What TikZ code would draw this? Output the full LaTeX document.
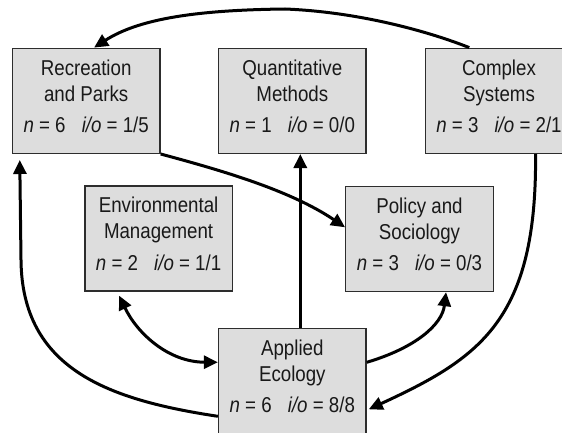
\documentclass[tikz,border=0pt]{standalone}
\usepackage{fontspec}
\setmainfont[FakeStretch=0.87]{Liberation Sans}
\usetikzlibrary{arrows.meta,calc}

\definecolor{boxfill}{RGB}{221,221,221}
\definecolor{boxline}{RGB}{45,45,45}

% three text lines of a box, set on fixed baselines below its top edge
\newcommand\boxtext[4]{%
  \node[lbl] at ($(#1.north)+(0,27.5)$) {#2};
  \node[lbl] at ($(#1.north)+(0,53.5)$) {#3};
  \node[lbl] at ($(#1.north)+(0,85)$) {#4};
}
\newcommand\stats[3]{\textit{n} = #1\hspace{0.75em}\textit{i/o} = #2/#3}

\begin{document}
\begin{tikzpicture}[x=1pt,y=-1pt,
  area/.style={draw=boxline, line width=1.4pt, fill=boxfill, rectangle,
    minimum width=147.5pt, minimum height=105pt, inner sep=0pt},
  lbl/.style={anchor=base, inner sep=0pt, text=black!90, font=\fontsize{21.5}{24}\selectfont},
  link/.style={line width=3pt, -{Triangle[length=14pt,width=13pt]}},
  dlink/.style={line width=3pt, {Triangle[length=14pt,width=13pt]}-{Triangle[length=14pt,width=13pt]}}]

\useasboundingbox (0,0) rectangle (562,433);

% boxes
\node[area] (R) at (86.2,100.8) {};
\node[area] (Q) at (292.3,100.8) {};
\node[area] (C) at (499.0,100.8) {};
\node[area] (E) at (158.6,238.5) {};
\node[area] (P) at (419.5,239.0) {};
\node[area, minimum height=109pt] (A) at (292.3,383.0) {};

\boxtext{R}{Recreation}{and Parks}{\stats{6}{1}{5}}
\boxtext{Q}{Quantitative}{Methods}{\stats{1}{0}{0}}
\boxtext{C}{Complex}{Systems}{\stats{3}{2}{1}}
\boxtext{E}{Environmental}{Management}{\stats{2}{1}{1}}
\boxtext{P}{Policy and}{Sociology}{\stats{3}{0}{3}}
\boxtext{A}{Applied}{Ecology}{\stats{6}{8}{8}}

% connectors
\draw[link] ($(C.north west)+(44.7,0)$) .. controls (430,32) and (360,12) .. (285,9)
  .. controls (200,10) and (140,18) .. ($(R.north west)+(82.3,0)$);
\draw[link] (R.south east) .. controls (220,170) and (290,190) .. ($(P.north west)+(0,41.5)$);
\draw[link] ($(A.north west)+(0,88.5)$) .. controls (110,400) and (22,370) .. (21,260)
  -- ($(R.south west)+(8,6)$);
\draw[link] ($(A.north)+(8,0)$) -- ($(Q.south)+(8,0)$);
\draw[dlink] ($(E.south west)+(35,4)$) .. controls (137,333) and (168,362) .. ($(A.north west)+(0,34.5)$);
\draw[link] ($(A.north east)+(0,34.5)$) .. controls (415,348) and (442,325) .. ($(P.south west)+(101,0)$);
\draw[link] ($(C.south west)+(111,0)$) .. controls (537,320) and (480,358) .. ($(A.north east)+(2,81.5)$);

\end{tikzpicture}
\end{document}
